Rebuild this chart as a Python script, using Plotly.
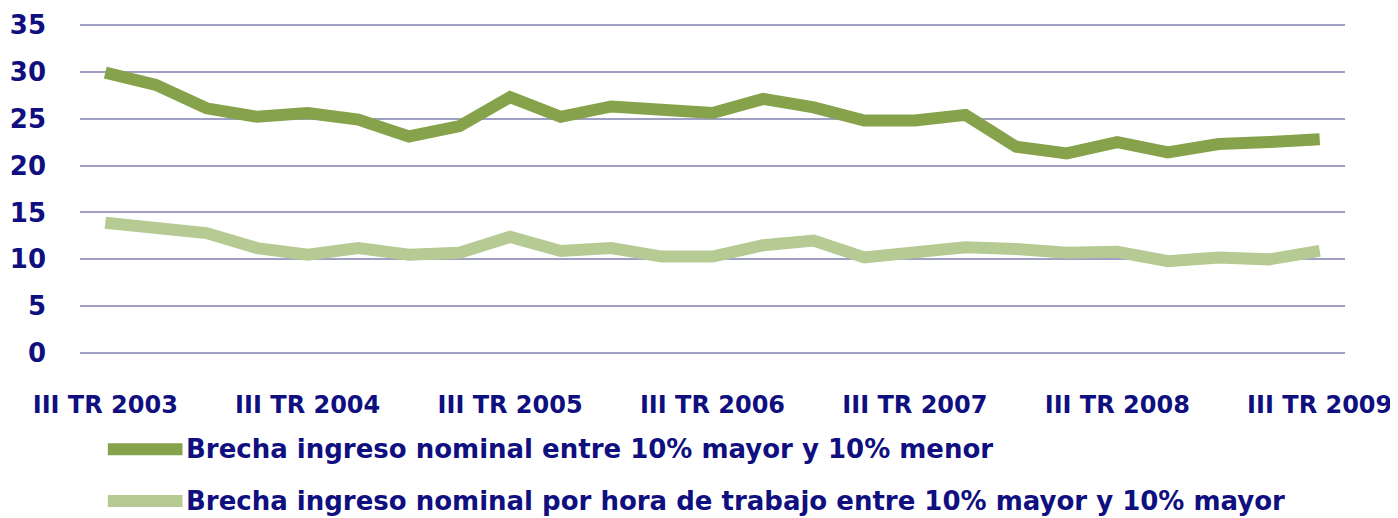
import plotly.graph_objects as go

# trimestres III TR 2003 .. III TR 2009
quarters = ["III", "IV", "I", "II"]
categories = []
year = 2003
for i in range(25):
    q = quarters[i % 4]
    if q == "I":
        year += 1
    categories.append(f"{q} TR {year}")
tick_labels = [c for c in categories if c.startswith("III ")]

brecha_total = [29.9, 28.6, 26.1, 25.2, 25.6, 24.9, 23.1, 24.2, 27.3, 25.2,
                26.3, 25.8, 25.6, 27.1, 26.2, 24.8, 24.8, 25.4, 22.0, 21.3,
                22.5, 21.4, 22.3, 22.5, 22.8]
brecha_hora = [13.9, 13.4, 12.8, 11.2, 10.5, 11.2, 10.5, 10.7, 12.4, 10.9,
               11.2, 10.3, 10.3, 11.5, 12.0, 10.2, 10.8, 11.3, 11.1, 10.7,
               10.8, 9.8, 10.2, 10.0, 10.9]

names = ["Brecha ingreso nominal entre 10% mayor y 10% menor",
         "Brecha ingreso nominal por hora de trabajo entre 10% mayor y 10% mayor"]
colors = ["#86a24a", "#b5cb93"]
navy = "#0f0f80"
font_bold = dict(family="DejaVu Sans", size=26, color=navy, weight="bold")

fig = go.Figure()
for vals, name, col in zip([brecha_total, brecha_hora], names, colors):
    fig.add_trace(go.Scatter(x=categories, y=vals, name=name, mode="lines",
                             line=dict(color=col, width=12), showlegend=False))

# leyenda dibujada a mano
for i, (name, col) in enumerate(zip(names, colors)):
    yp = -0.279 - i * 0.155
    fig.add_shape(type="line", xref="paper", yref="paper",
                  x0=0.022, x1=0.081, y0=yp, y1=yp,
                  line=dict(color=col, width=12))
    fig.add_annotation(xref="paper", yref="paper", x=0.082, y=yp,
                       text=name, showarrow=False, xanchor="left",
                       yanchor="middle", font=font_bold)

# la página tiene 8px de margen en el body
fig.update_layout(
    width=1390, height=510,
    margin=dict(l=72, r=53, t=14, b=162, autoexpand=False),
    plot_bgcolor="white", paper_bgcolor="white",
)
fig.update_xaxes(type="category", categoryorder="array", categoryarray=categories,
                 tickvals=tick_labels, ticktext=tick_labels, range=[-0.5, 24.5],
                 showgrid=False, showline=False, ticks="",
                 tickfont=dict(font_bold, size=24),
                 ticklabelstandoff=32, automargin=False)
fig.update_yaxes(range=[-0.3, 35.3], dtick=5, showgrid=True, gridcolor="#a0a0c4",
                 gridwidth=2, zeroline=False, showline=False, automargin=False,
                 tickfont=font_bold, ticklabelstandoff=33)

fig.write_html("out.html")
